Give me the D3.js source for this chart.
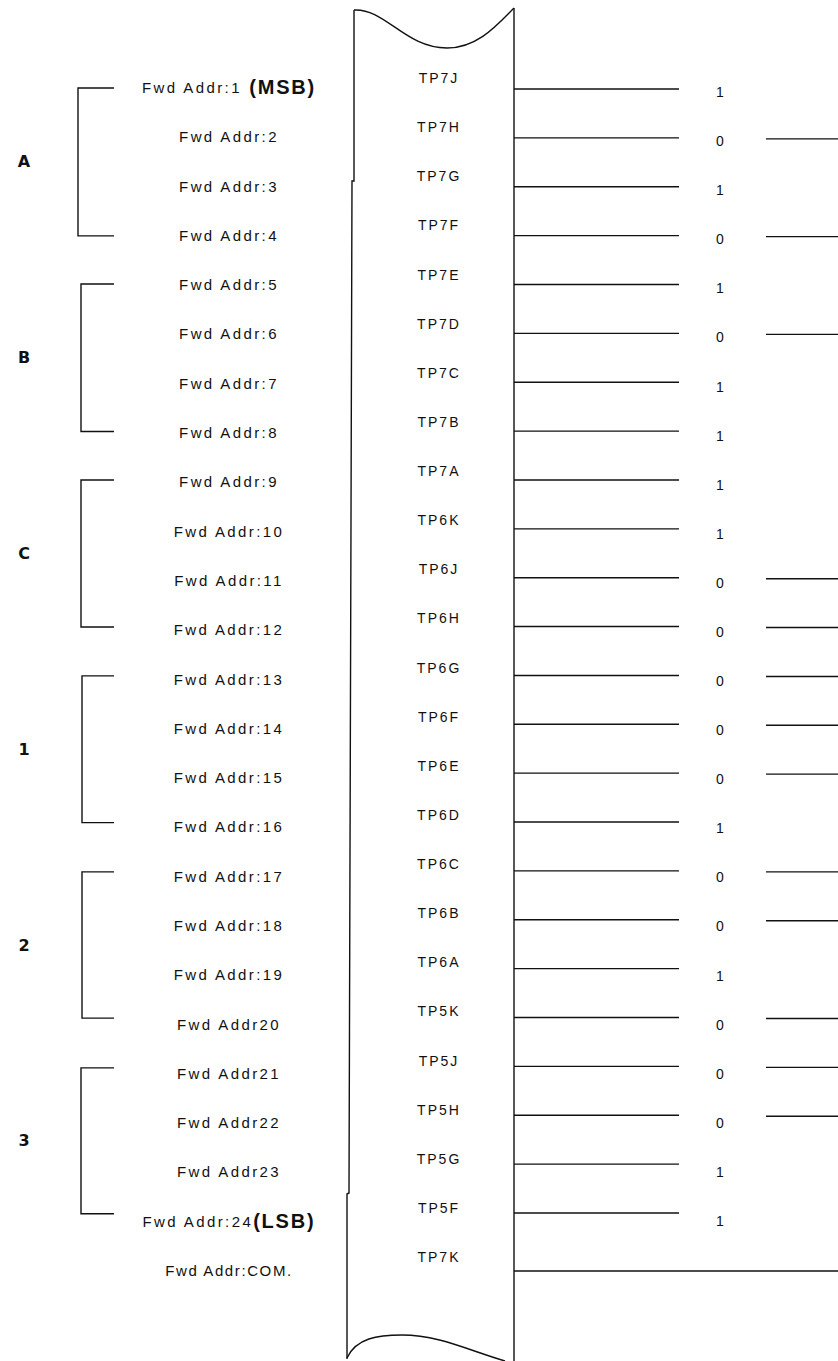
<!DOCTYPE html>
<html>
<head>
<meta charset="utf-8">
<script src="https://cdn.jsdelivr.net/npm/d3@7"></script>
<style>
  html, body { margin: 0; padding: 0; background: #fff; }
  svg { display: block; }
  text { font-family: "Liberation Sans", Arial, sans-serif; fill: #111; }
</style>
</head>
<body>
<script>
// ---------- data ----------
const fwdLabels = [
  "Fwd Addr:1", "Fwd Addr:2", "Fwd Addr:3", "Fwd Addr:4",
  "Fwd Addr:5", "Fwd Addr:6", "Fwd Addr:7", "Fwd Addr:8",
  "Fwd Addr:9", "Fwd Addr:10", "Fwd Addr:11", "Fwd Addr:12",
  "Fwd Addr:13", "Fwd Addr:14", "Fwd Addr:15", "Fwd Addr:16",
  "Fwd Addr:17", "Fwd Addr:18", "Fwd Addr:19", "Fwd Addr20",
  "Fwd Addr21", "Fwd Addr22", "Fwd Addr23", "Fwd Addr:24",
  "Fwd Addr:COM."
];
const fwdSuffix = ["(MSB)", "", "", "", "", "", "", "", "", "", "", "", "",
  "", "", "", "", "", "", "", "", "", "", "(LSB)", ""];
const tpLabels = [
  "TP7J", "TP7H", "TP7G", "TP7F", "TP7E", "TP7D", "TP7C", "TP7B",
  "TP7A", "TP6K", "TP6J", "TP6H", "TP6G", "TP6F", "TP6E", "TP6D",
  "TP6C", "TP6B", "TP6A", "TP5K", "TP5J", "TP5H", "TP5G", "TP5F",
  "TP7K"
];
const bits = [1, 0, 1, 0, 1, 0, 1, 1, 1, 1, 0, 0, 0, 0, 0, 1, 0, 0, 1, 0, 0, 0, 1, 1];
const groupNames = ["A", "B", "C", "1", "2", "3"];
const groupSize = 4;

// ---------- layout ----------
const W = 838, H = 1361;
const svg = d3.select("body").append("svg").attr("width", W).attr("height", H);
svg.append("rect").attr("width", W).attr("height", H).attr("fill", "#fff");

const nRows = fwdLabels.length; // 25
const yLabel = d3.scaleLinear().domain([0, nRows - 1]).range([87, 1270]);
const yTp = d3.scaleLinear().domain([0, nRows - 1]).range([78, 1257]);
const yLine = d3.scaleLinear().domain([0, bits.length - 1]).range([89, 1213]);
const yDigit = d3.scaleLinear().domain([0, bits.length - 1]).range([92, 1221]);

const xLabelCenter = 229;
const xTpCenter = 439;
const tapeRight = 514;
const lineEnd = 679;
const xDigit = 720;
const rightLineStart = 766;

const ink = "#111";
const sw = 1.4;

// ---------- left labels ----------
const lbl = svg.append("g").selectAll("text").data(fwdLabels).join("text")
  .attr("x", xLabelCenter)
  .attr("y", (d, i) => yLabel(i))
  .attr("text-anchor", "middle")
  .attr("dominant-baseline", "central")
  .attr("font-size", 15)
  .attr("letter-spacing", (d, i) => i === nRows - 1 ? 1.6 : 2.4);
lbl.append("tspan").text(d => d);
lbl.filter((d, i) => fwdSuffix[i] !== "")
  .append("tspan")
  .attr("font-weight", "bold")
  .attr("font-size", 20)
  .attr("letter-spacing", 1.8)
  .attr("dx", (d, i) => 0)
  .text(function(d) {
    const i = fwdLabels.indexOf(d);
    return (i === 0 ? " " : "") + fwdSuffix[i];
  });

// ---------- brackets & group labels ----------
const groups = groupNames.map((g, k) => ({
  name: g,
  top: yLabel(k * groupSize) + 1 - k * 1.2,
  bottom: yLabel(k * groupSize + groupSize - 1) + 1 - k * 1.6
}));
const bx = [78, 81, 81, 82, 82, 81];
svg.append("g").selectAll("path").data(groups).join("path")
  .attr("d", (d, k) => `M${114},${d.top}H${bx[k]}V${d.bottom}H${114}`)
  .attr("fill", "none").attr("stroke", ink).attr("stroke-width", sw);
svg.append("g").selectAll("text").data(groups).join("text")
  .attr("x", 24)
  .attr("y", d => (d.top + d.bottom) / 2)
  .attr("text-anchor", "middle")
  .attr("dominant-baseline", "central")
  .attr("font-size", 16)
  .attr("font-weight", "bold")
  .style("font-family", "'DejaVu Sans', 'Liberation Sans', sans-serif")
  .text(d => d.name);

// ---------- tape ----------
const tape = svg.append("g").attr("fill", "none").attr("stroke", ink).attr("stroke-width", sw);
// left edge
tape.append("path").attr("d",
  d3.line()([[354, 10], [354, 181], [352, 181], [349, 1193], [347, 1194], [347, 1359]]));
// right edge
tape.append("line").attr("x1", tapeRight).attr("x2", tapeRight).attr("y1", 8).attr("y2", H);
// top wavy edge
tape.append("path").attr("d", "M354,10 C385,8 405,48 447,48 C478,48 498,24 514,8");
// bottom wavy edge
tape.append("path").attr("d", "M347,1358 C356,1338 378,1335 402,1335 C438,1335 468,1350 505,1361");

// ---------- TP labels ----------
svg.append("g").selectAll("text").data(tpLabels).join("text")
  .attr("x", xTpCenter)
  .attr("y", (d, i) => yTp(i))
  .attr("text-anchor", "middle")
  .attr("dominant-baseline", "central")
  .attr("font-size", 14)
  .attr("letter-spacing", 2)
  .text(d => d);

// ---------- bit lines ----------
svg.append("g").selectAll("line").data(bits).join("line")
  .attr("x1", tapeRight).attr("x2", lineEnd)
  .attr("y1", (d, i) => yLine(i)).attr("y2", (d, i) => yLine(i))
  .attr("stroke", ink).attr("stroke-width", sw);

svg.append("g").selectAll("text").data(bits).join("text")
  .attr("x", xDigit)
  .attr("y", (d, i) => yDigit(i))
  .attr("text-anchor", "middle")
  .attr("dominant-baseline", "central")
  .attr("font-size", 14)
  .text(d => d);

svg.append("g").selectAll("line")
  .data(bits.map((b, i) => ({ b, i })).filter(d => d.b === 0))
  .join("line")
  .attr("x1", rightLineStart).attr("x2", W)
  .attr("y1", d => yLine(d.i) + 1).attr("y2", d => yLine(d.i) + 1)
  .attr("stroke", ink).attr("stroke-width", sw);

// common line (TP7K)
svg.append("line")
  .attr("x1", tapeRight).attr("x2", W)
  .attr("y1", yLabel(nRows - 1) + 1).attr("y2", yLabel(nRows - 1) + 1)
  .attr("stroke", ink).attr("stroke-width", sw);
</script>
</body>
</html>
